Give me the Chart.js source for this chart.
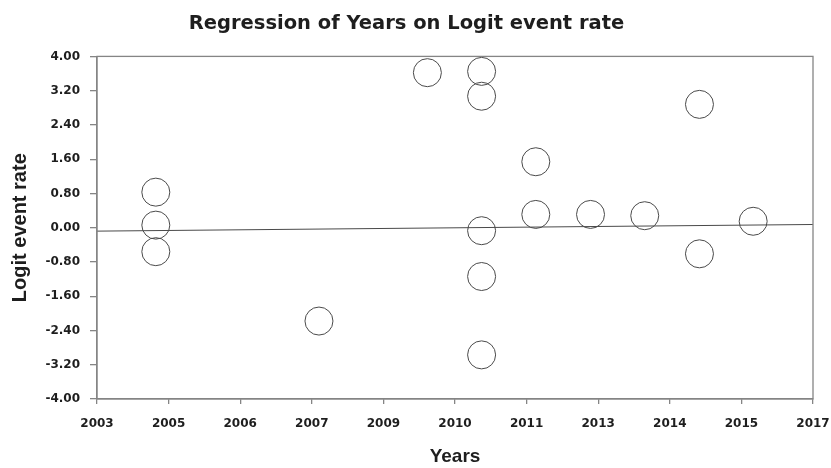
<!DOCTYPE html>
<html>
<head>
<meta charset="utf-8">
<script src="https://cdn.jsdelivr.net/npm/chart.js@4.4.0/dist/chart.umd.min.js"></script>
<style>
  html, body { margin: 0; padding: 0; background: #fff; }
  #wrap { width: 831px; height: 468px; }
</style>
</head>
<body>
<div id="wrap"><canvas id="c" width="831" height="468"></canvas></div>
<script>
// ---- data ----
const studyYears = [2004.15, 2004.15, 2004.15, 2007.34, 2009.46, 2010.52, 2010.52, 2010.52, 2010.52, 2010.52, 2011.58, 2011.58, 2012.65, 2013.71, 2014.78, 2014.78, 2015.83];
const logitRates = [0.83, 0.06, -0.56, -2.18, 3.62, 3.65, 3.07, -0.07, -1.14, -2.97, 1.54, 0.31, 0.31, 0.28, 2.88, -0.61, 0.15];
const regressionX = [2003, 2017];
const regressionY = [-0.08, 0.075];
const xTickValues = [2003, 2004.4, 2005.8, 2007.2, 2008.6, 2010, 2011.4, 2012.8, 2014.2, 2015.6, 2017];
const xTickLabels = ['2003', '2005', '2006', '2007', '2009', '2010', '2011', '2013', '2014', '2015', '2017'];
const yTickValues = [-4, -3.2, -2.4, -1.6, -0.8, 0, 0.8, 1.6, 2.4, 3.2, 4];

const axisColor = '#858585';
const markColor = '#4a4a4a';
const textColor = '#1e1e1e';

const frame = {
  id: 'frame',
  afterDatasetsDraw(chart) {
    const a = chart.chartArea, ctx = chart.ctx;
    ctx.save();
    ctx.strokeStyle = axisColor;
    ctx.lineWidth = 1.3;
    ctx.strokeRect(a.left, a.top, a.right - a.left, a.bottom - a.top);
    ctx.restore();
  }
};

new Chart(document.getElementById('c'), {
  data: {
    datasets: [
      {
        type: 'scatter',
        data: studyYears.map((x, i) => ({ x: x, y: logitRates[i] })),
        pointRadius: 14,
        pointHoverRadius: 14,
        pointStyle: 'circle',
        backgroundColor: 'rgba(0,0,0,0)',
        borderColor: markColor,
        borderWidth: 1
      },
      {
        type: 'line',
        data: regressionX.map((x, i) => ({ x: x, y: regressionY[i] })),
        borderColor: markColor,
        borderWidth: 1,
        pointRadius: 0,
        fill: false
      }
    ]
  },
  plugins: [frame],
  options: {
    responsive: false,
    animation: false,
    layout: { padding: { left: 0, right: 18, top: 0, bottom: 0 } },
    plugins: {
      legend: { display: false },
      tooltip: { enabled: false },
      title: {
        display: true,
        text: 'Regression of Years on Logit event rate',
        color: textColor,
        font: { family: 'DejaVu Sans', size: 19.5, weight: 'bold' },
        padding: { top: 12, bottom: 21 }
      }
    },
    scales: {
      x: {
        type: 'linear',
        min: 2003,
        max: 2017,
        afterBuildTicks(scale) { scale.ticks = xTickValues.map(v => ({ value: v })); },
        afterFit(scale) { scale.height = 69; scale.paddingLeft = 0; scale.paddingRight = 0; },
        grid: { display: true, drawOnChartArea: false, drawTicks: true, tickLength: 5, color: axisColor, lineWidth: 1.3 },
        border: { display: true, color: axisColor, width: 1.3 },
        ticks: {
          autoSkip: false,
          maxRotation: 0,
          padding: 13,
          color: textColor,
          font: { family: 'DejaVu Sans', size: 12, weight: 'bold' },
          callback: (v, i) => xTickLabels[i]
        },
        title: {
          display: true,
          text: 'Years',
          color: textColor,
          font: { family: 'Liberation Sans', size: 19, weight: 'bold' },
          padding: { top: 0, bottom: 0 }
        }
      },
      y: {
        type: 'linear',
        min: -4,
        max: 4,
        afterBuildTicks(scale) { scale.ticks = yTickValues.map(v => ({ value: v })); },
        afterFit(scale) { scale.width = 97; scale.paddingTop = 0; scale.paddingBottom = 0; },
        grid: { display: true, drawOnChartArea: false, drawTicks: true, tickLength: 7, color: axisColor, lineWidth: 1.3 },
        border: { display: true, color: axisColor, width: 1.3 },
        ticks: {
          autoSkip: false,
          padding: 10,
          color: textColor,
          font: { family: 'DejaVu Sans', size: 12, weight: 'bold' },
          callback: (v) => Number(v).toFixed(2)
        },
        title: {
          display: true,
          text: 'Logit event rate',
          color: textColor,
          font: { family: 'Liberation Sans', size: 20, weight: 'bold' },
          padding: { top: 8, bottom: 0 }
        }
      }
    }
  }
});
</script>
</body>
</html>
